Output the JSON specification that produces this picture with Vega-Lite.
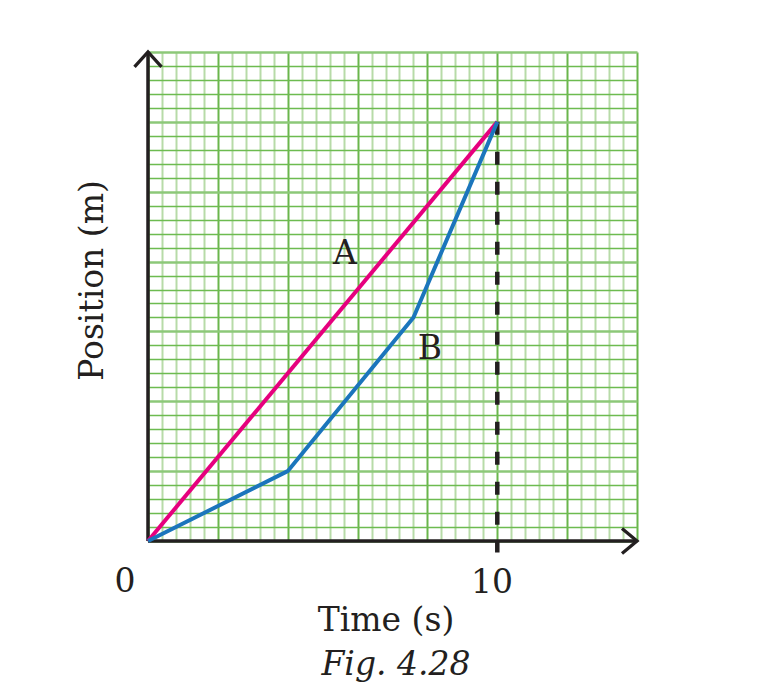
{
  "$schema": "https://vega.github.io/schema/vega-lite/v6.json",
  "width": 489,
  "height": 489,
  "autosize": {"type": "none"},
  "padding": {"left": 148, "top": 52, "right": 124, "bottom": 150},
  "background": "white",
  "config": {"view": {"stroke": null}, "font": "DejaVu Serif"},
  "datasets": {
    "lines": [
      {"series": "A", "time": 0, "position": 0},
      {"series": "A", "time": 10, "position": 12},
      {"series": "B", "time": 0, "position": 0},
      {"series": "B", "time": 4, "position": 2},
      {"series": "B", "time": 7.6, "position": 6.4},
      {"series": "B", "time": 10, "position": 12}
    ],
    "labels": [
      {"text": "0", "time": -0.66, "position": -1.46},
      {"text": "10", "time": 9.85, "position": -1.49},
      {"text": "A", "time": 5.64, "position": 7.93},
      {"text": "B", "time": 8.07, "position": 5.21}
    ],
    "caption": [
      {"text": "Fig. 4.28", "time": 7.1, "position": -3.84}
    ],
    "one": [{}]
  },
  "layer": [
    {
      "data": {"name": "one"},
      "mark": {"type": "rule", "stroke": "#231f20", "strokeWidth": 3.5},
      "encoding": {
        "x": {
          "datum": 0,
          "type": "quantitative",
          "scale": {"domain": [0, 14], "nice": false, "zero": false},
          "axis": {
            "values": [0,0.4,0.8,1.2,1.6,2,2.4,2.8,3.2,3.6,4,4.4,4.8,5.2,5.6,6,6.4,6.8,7.2,7.6,8,8.4,8.8,9.2,9.6,10,10.4,10.8,11.2,11.6,12,12.4,12.8,13.2,13.6,14],
            "tickCount": 100,
            "grid": true,
            "gridColor": {"condition": {"test": "abs(datum.value/2 - round(datum.value/2)) < 0.01", "value": "#6ab64c"}, "value": "#b7dba8"},
            "gridWidth": 2,
            "gridOpacity": 1,
            "domain": false,
            "ticks": false,
            "labels": false,
            "title": "Time (s)",
            "titleX": 237.5,
            "titleY": 89,
            "titleAlign": "center",
            "titleBaseline": "alphabetic",
            "titleFont": "DejaVu Serif",
            "titleFontSize": 33,
            "titleFontWeight": "normal",
            "titleColor": "#231f20"
          }
        },
        "y": {
          "datum": 0,
          "type": "quantitative",
          "scale": {"domain": [0, 14], "nice": false, "zero": false},
          "axis": {
            "values": [0,0.4,0.8,1.2,1.6,2,2.4,2.8,3.2,3.6,4,4.4,4.8,5.2,5.6,6,6.4,6.8,7.2,7.6,8,8.4,8.8,9.2,9.6,10,10.4,10.8,11.2,11.6,12,12.4,12.8,13.2,13.6,14],
            "tickCount": 100,
            "grid": true,
            "gridColor": {"condition": {"test": "abs(datum.value/2 - round(datum.value/2)) < 0.01", "value": "#8cc878"}, "value": "#6dbb50"},
            "gridWidth": {"condition": {"test": "abs(datum.value/2 - round(datum.value/2)) < 0.01", "value": 2.5}, "value": 1.3},
            "gridOpacity": 1,
            "domain": false,
            "ticks": false,
            "labels": false,
            "title": "Position (m)",
            "titleX": -46,
            "titleY": 228,
            "titleAngle": 270,
            "titleAlign": "center",
            "titleBaseline": "alphabetic",
            "titleFont": "DejaVu Serif",
            "titleFontSize": 33,
            "titleFontWeight": "normal",
            "titleColor": "#231f20"
          }
        },
        "y2": {"datum": 14}
      }
    },
    {
      "data": {"name": "one"},
      "mark": {"type": "rule", "stroke": "#231f20", "strokeWidth": 3.5},
      "encoding": {
        "y": {"datum": 0, "type": "quantitative"},
        "x": {"datum": 0, "type": "quantitative"},
        "x2": {"datum": 14}
      }
    },
    {
      "data": {"name": "one"},
      "mark": {"type": "rule", "stroke": "#231f20", "strokeWidth": 4.5, "strokeDash": [13, 17]},
      "encoding": {
        "x": {"datum": 10, "type": "quantitative"},
        "y": {"datum": 12, "type": "quantitative"},
        "y2": {"datum": -0.33}
      }
    },
    {
      "data": {"name": "lines"},
      "mark": {"type": "line", "strokeWidth": 4},
      "encoding": {
        "x": {"field": "time", "type": "quantitative"},
        "y": {"field": "position", "type": "quantitative"},
        "color": {"field": "series", "type": "nominal", "scale": {"domain": ["A", "B"], "range": ["#e6007e", "#1b75bc"]}, "legend": null}
      }
    },
    {
      "data": {"name": "one"},
      "mark": {"type": "point", "shape": "M-1,1.1L0,0L1,1.1", "size": 729, "filled": false, "stroke": "#231f20", "strokeWidth": 3.3, "opacity": 1},
      "encoding": {
        "x": {"datum": 0, "type": "quantitative"},
        "y": {"datum": 14, "type": "quantitative"}
      }
    },
    {
      "data": {"name": "one"},
      "mark": {"type": "point", "shape": "M-1.2,-1L0,0L-1.2,1", "size": 625, "filled": false, "stroke": "#231f20", "strokeWidth": 3.3, "opacity": 1},
      "encoding": {
        "x": {"datum": 14, "type": "quantitative"},
        "y": {"datum": 0, "type": "quantitative"}
      }
    },
    {
      "data": {"name": "labels"},
      "mark": {"type": "text", "font": "DejaVu Serif", "fontSize": 33, "align": "center", "baseline": "alphabetic", "color": "#231f20"},
      "encoding": {
        "x": {"field": "time", "type": "quantitative"},
        "y": {"field": "position", "type": "quantitative"},
        "text": {"field": "text", "type": "nominal"}
      }
    },
    {
      "data": {"name": "caption"},
      "mark": {"type": "text", "font": "DejaVu Serif", "fontSize": 33, "fontStyle": "italic", "align": "center", "baseline": "alphabetic", "color": "#231f20"},
      "encoding": {
        "x": {"field": "time", "type": "quantitative"},
        "y": {"field": "position", "type": "quantitative"},
        "text": {"field": "text", "type": "nominal"}
      }
    }
  ]
}
